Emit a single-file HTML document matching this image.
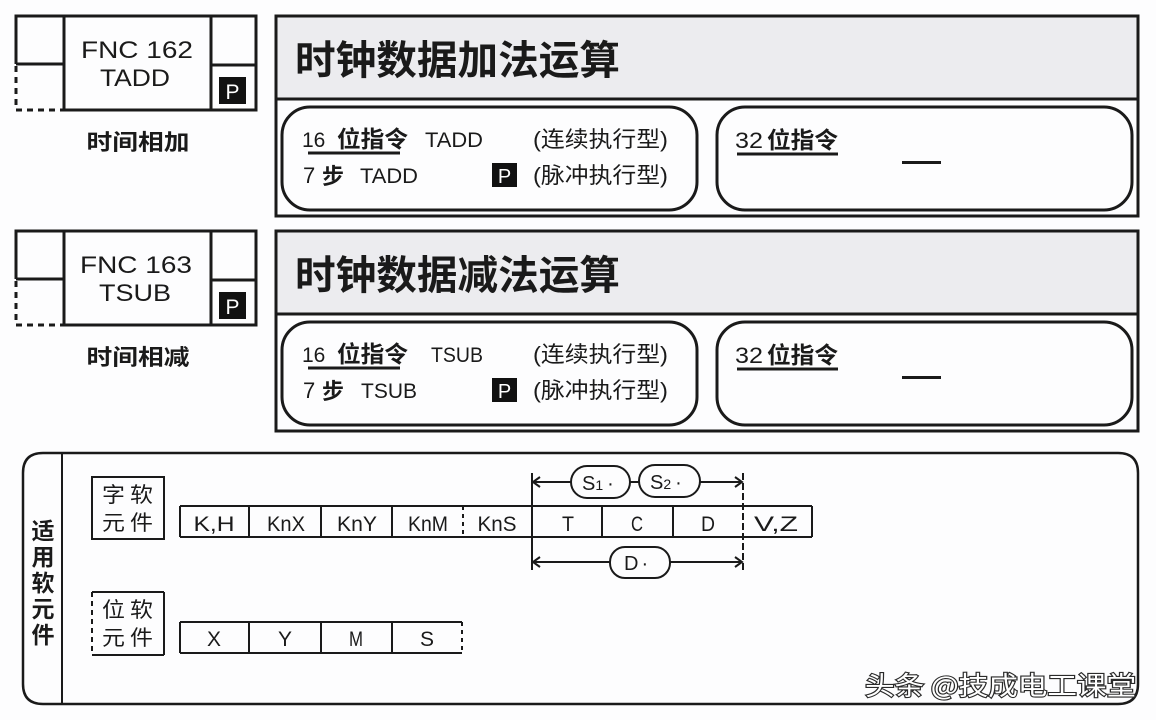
<!DOCTYPE html>
<html><head><meta charset="utf-8"><style>
html,body{margin:0;padding:0;background:#fdfdfe;}
svg{display:block;}
text{font-family:"Liberation Sans","Noto Sans CJK SC",sans-serif;fill:#1a1a1a;}
.cj{font-family:"Noto Sans CJK SC","WenQuanYi Zen Hei",sans-serif;}
</style></head><body>
<svg width="1156" height="720" viewBox="0 0 1156 720" xmlns="http://www.w3.org/2000/svg">
<defs>
<g id="fnc">
  <g stroke="#1a1a1a" stroke-width="3" fill="none">
    <line x1="14.5" y1="16" x2="257.5" y2="16"/>
    <line x1="16" y1="16" x2="16" y2="64"/>
    <line x1="16" y1="64" x2="64" y2="64"/>
    <line x1="64" y1="16" x2="64" y2="111.5"/>
    <line x1="211" y1="16" x2="211" y2="111.5"/>
    <line x1="256" y1="14.5" x2="256" y2="111.5"/>
    <line x1="64" y1="110" x2="257.5" y2="110"/>
    <line x1="211" y1="65" x2="256" y2="65"/>
    <line x1="16" y1="66" x2="16" y2="110" stroke-dasharray="6,5"/>
    <line x1="16" y1="110" x2="64" y2="110" stroke-dasharray="6,5"/>
  </g>
  <rect x="219" y="77" width="27" height="27" fill="#111"/>
  <text x="232.5" y="99" font-size="21" text-anchor="middle" style="fill:#fff">P</text>
</g>
<g id="titlebox">
  <rect x="276" y="16" width="862" height="83" fill="#ececef"/>
  <rect x="276" y="16" width="862" height="200" fill="none" stroke="#1a1a1a" stroke-width="3"/>
  <line x1="276" y1="99" x2="1138" y2="99" stroke="#1a1a1a" stroke-width="3"/>
  <rect x="282" y="107" width="415" height="103" rx="28" fill="#fdfdfe" stroke="#1a1a1a" stroke-width="3"/>
  <rect x="717" y="107" width="415" height="103" rx="28" fill="#fdfdfe" stroke="#1a1a1a" stroke-width="3"/>
  <line x1="308" y1="153" x2="400" y2="153" stroke="#1a1a1a" stroke-width="3"/>
  <text x="302" y="147" font-size="21">16</text>
  <text x="337" y="147" font-size="23" font-weight="bold" class="cj" textLength="71" lengthAdjust="spacingAndGlyphs">位指令</text>
  <text x="533" y="147" font-size="22" textLength="135" lengthAdjust="spacingAndGlyphs">(连续执行型)</text>
  <text x="303" y="183" font-size="22">7</text>
  <text x="322" y="184" font-size="22" font-weight="bold" class="cj">步</text>
  <rect x="492" y="163" width="25" height="24" fill="#111"/>
  <text x="504.5" y="183" font-size="20" text-anchor="middle" style="fill:#fff">P</text>
  <text x="533" y="183" font-size="22" textLength="135" lengthAdjust="spacingAndGlyphs">(脉冲执行型)</text>
  <line x1="737" y1="154" x2="838" y2="154" stroke="#1a1a1a" stroke-width="3"/>
  <text x="735" y="148" font-size="22" textLength="28" lengthAdjust="spacingAndGlyphs">32</text>
  <text x="767" y="148" font-size="23" font-weight="bold" class="cj" textLength="71" lengthAdjust="spacingAndGlyphs">位指令</text>
  <rect x="902" y="161" width="39" height="3" fill="#1a1a1a"/>
</g>
</defs>

<!-- Block 1 -->
<use href="#fnc"/>
<text x="137" y="58" font-size="24" text-anchor="middle" textLength="112" lengthAdjust="spacingAndGlyphs">FNC 162</text>
<text x="135" y="86" font-size="24" text-anchor="middle" textLength="70" lengthAdjust="spacingAndGlyphs">TADD</text>
<text x="138" y="150" font-size="22" font-weight="bold" text-anchor="middle" class="cj" textLength="103" lengthAdjust="spacingAndGlyphs">时间相加</text>
<use href="#titlebox"/>
<text x="295" y="74" font-size="40" font-weight="bold" class="cj" textLength="325" lengthAdjust="spacingAndGlyphs">时钟数据加法运算</text>
<text x="425" y="147" font-size="21" textLength="58" lengthAdjust="spacingAndGlyphs">TADD</text>
<text x="360" y="183" font-size="21" textLength="58" lengthAdjust="spacingAndGlyphs">TADD</text>

<!-- Block 2 -->
<g transform="translate(0,215)">
<use href="#fnc"/>
<text x="136" y="58" font-size="24" text-anchor="middle" textLength="112" lengthAdjust="spacingAndGlyphs">FNC 163</text>
<text x="135" y="86" font-size="24" text-anchor="middle" textLength="72" lengthAdjust="spacingAndGlyphs">TSUB</text>
<text x="138" y="150" font-size="22" font-weight="bold" text-anchor="middle" class="cj" textLength="103" lengthAdjust="spacingAndGlyphs">时间相减</text>
<use href="#titlebox"/>
<text x="295" y="74" font-size="40" font-weight="bold" class="cj" textLength="325" lengthAdjust="spacingAndGlyphs">时钟数据减法运算</text>
<text x="431" y="147" font-size="21" textLength="52" lengthAdjust="spacingAndGlyphs">TSUB</text>
<text x="361" y="183" font-size="21" textLength="56" lengthAdjust="spacingAndGlyphs">TSUB</text>
</g>

<!-- Bottom box -->
<path d="M43 453 H1118 Q1138 453 1138 473 V684 Q1138 704 1118 704 H43 Q23 704 23 684 V473 Q23 453 43 453 Z" fill="none" stroke="#1a1a1a" stroke-width="2.5"/>
<line x1="62" y1="453" x2="62" y2="704" stroke="#1a1a1a" stroke-width="2"/>
<g font-size="23" font-weight="bold" text-anchor="middle" class="cj">
<text x="43" y="539" class="cj">适</text>
<text x="43" y="565" class="cj">用</text>
<text x="43" y="591" class="cj">软</text>
<text x="43" y="617" class="cj">元</text>
<text x="43" y="643" class="cj">件</text>
</g>

<g stroke="#1a1a1a" stroke-width="2" fill="none">
  <rect x="92" y="477" width="72" height="62"/>
  <line x1="92" y1="592" x2="164" y2="592"/>
  <line x1="164" y1="592" x2="164" y2="655"/>
  <line x1="92" y1="655" x2="164" y2="655"/>
  <line x1="92" y1="592" x2="92" y2="655" stroke-dasharray="5,4"/>
  <!-- word row -->
  <line x1="180" y1="506" x2="812" y2="506"/>
  <line x1="180" y1="537" x2="812" y2="537"/>
  <line x1="180" y1="506" x2="180" y2="537"/>
  <line x1="812" y1="506" x2="812" y2="537"/>
  <line x1="249" y1="506" x2="249" y2="537"/>
  <line x1="321" y1="506" x2="321" y2="537"/>
  <line x1="392" y1="506" x2="392" y2="537"/>
  <line x1="463" y1="506" x2="463" y2="537" stroke-dasharray="4,4"/>
  <line x1="602" y1="506" x2="602" y2="537"/>
  <line x1="673" y1="506" x2="673" y2="537"/>
  <line x1="532" y1="473" x2="532" y2="570"/>
  <line x1="743" y1="473" x2="743" y2="570" stroke-dasharray="7,3"/>
  <!-- bit row -->
  <line x1="180" y1="622" x2="462" y2="622"/>
  <line x1="180" y1="653" x2="462" y2="653"/>
  <line x1="180" y1="622" x2="180" y2="653"/>
  <line x1="249" y1="622" x2="249" y2="653"/>
  <line x1="321" y1="622" x2="321" y2="653"/>
  <line x1="392" y1="622" x2="392" y2="653"/>
  <line x1="462" y1="622" x2="462" y2="653" stroke-dasharray="4,4"/>
  <!-- arrows -->
  <line x1="533" y1="482" x2="571" y2="482"/>
  <line x1="630" y1="482" x2="639" y2="482"/>
  <line x1="700" y1="482" x2="742" y2="482"/>
  <polyline points="540,477 533,482 540,487"/>
  <polyline points="735,477 742,482 735,487"/>
  <line x1="533" y1="562" x2="610" y2="562"/>
  <line x1="670" y1="562" x2="742" y2="562"/>
  <polyline points="540,557 533,562 540,567"/>
  <polyline points="735,557 742,562 735,567"/>
  <rect x="571" y="466" width="59" height="32" rx="16"/>
  <rect x="639" y="465" width="61" height="32" rx="16"/>
  <rect x="610" y="547" width="60" height="31" rx="15"/>
</g>

<g font-size="21" class="cj">
<text x="102" y="502" class="cj" textLength="51" lengthAdjust="spacingAndGlyphs">字 软</text>
<text x="102" y="530" class="cj" textLength="51" lengthAdjust="spacingAndGlyphs">元 件</text>
<text x="102" y="617" class="cj" textLength="51" lengthAdjust="spacingAndGlyphs">位 软</text>
<text x="102" y="645" class="cj" textLength="51" lengthAdjust="spacingAndGlyphs">元 件</text>
</g>

<g font-size="21" text-anchor="middle">
<text x="214" y="531" textLength="41" lengthAdjust="spacingAndGlyphs">K,H</text>
<text x="286" y="531" textLength="38" lengthAdjust="spacingAndGlyphs">KnX</text>
<text x="357" y="531" textLength="40" lengthAdjust="spacingAndGlyphs">KnY</text>
<text x="428" y="531" textLength="40" lengthAdjust="spacingAndGlyphs">KnM</text>
<text x="497" y="531" textLength="39" lengthAdjust="spacingAndGlyphs">KnS</text>
<text x="568" y="531" textLength="12" lengthAdjust="spacingAndGlyphs">T</text>
<text x="637" y="531" textLength="12" lengthAdjust="spacingAndGlyphs">C</text>
<text x="708" y="531" textLength="14" lengthAdjust="spacingAndGlyphs">D</text>
<text x="776" y="531" textLength="44" lengthAdjust="spacingAndGlyphs">V,Z</text>
<text x="214" y="646" textLength="14" lengthAdjust="spacingAndGlyphs">X</text>
<text x="285" y="646" textLength="14" lengthAdjust="spacingAndGlyphs">Y</text>
<text x="356" y="646" textLength="14" lengthAdjust="spacingAndGlyphs">M</text>
<text x="427" y="646" textLength="14" lengthAdjust="spacingAndGlyphs">S</text>
</g>
<text x="582" y="490" font-size="20">S<tspan font-size="14">1</tspan><tspan dx="4">·</tspan></text>
<text x="650" y="489" font-size="20">S<tspan font-size="14">2</tspan><tspan dx="4">·</tspan></text>
<text x="624" y="570" font-size="20">D<tspan dx="3">·</tspan></text>

<!-- watermark -->
<text x="865" y="695" font-size="26" class="cj" textLength="271" lengthAdjust="spacingAndGlyphs" style="fill:#fff;stroke:#2a2a2a;stroke-width:2.2;paint-order:stroke;">头条 @技成电工课堂</text>
</svg>
</body></html>
